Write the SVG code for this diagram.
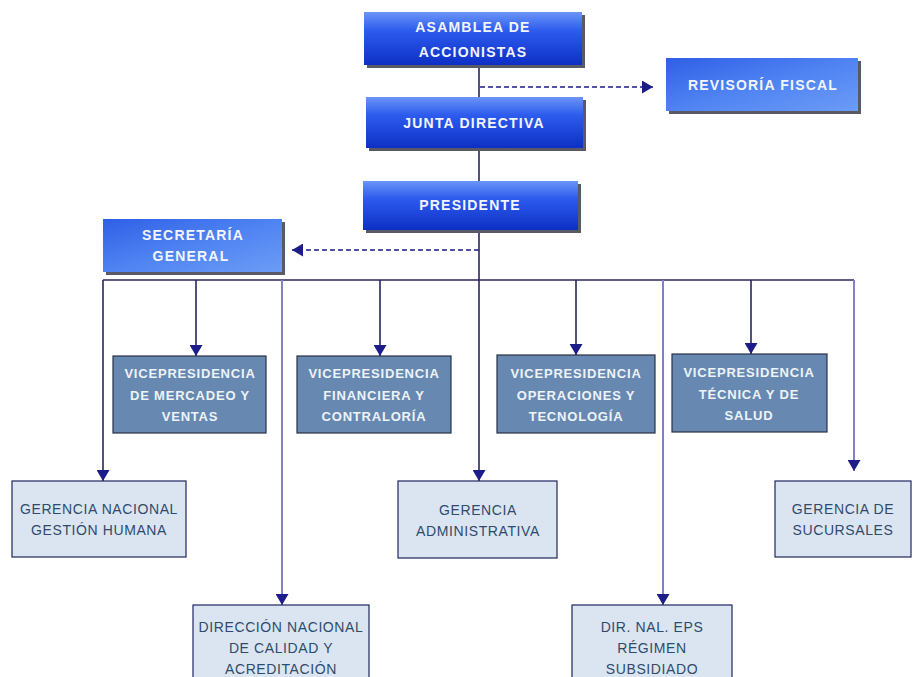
<svg xmlns="http://www.w3.org/2000/svg" width="923" height="677" viewBox="0 0 923 677">
<defs>
<linearGradient id="gTop" x1="0" y1="0" x2="0" y2="1">
<stop offset="0" stop-color="#6b95f7"/>
<stop offset="0.35" stop-color="#2d5cee"/>
<stop offset="1" stop-color="#0d2fc4"/>
</linearGradient>
<linearGradient id="gSide" x1="0" y1="0" x2="1" y2="1">
<stop offset="0" stop-color="#2f5fe6"/>
<stop offset="0.5" stop-color="#4f83f2"/>
<stop offset="1" stop-color="#6c9cf6"/>
</linearGradient>
<marker id="arr" viewBox="0 0 10 10" refX="10" refY="5" markerWidth="11" markerHeight="13" markerUnits="userSpaceOnUse" orient="auto" preserveAspectRatio="none">
<path d="M0,0 L10,5 L0,10 z" fill="#1c1c8a"/>
</marker>
</defs>
<style>
.shadow{fill:#5a5a66}
.top{fill:url(#gTop)}
.side{fill:url(#gSide)}
.tt{font-family:"Liberation Sans",Arial,sans-serif;font-weight:bold;font-size:14px;fill:#f2f5ff;text-anchor:middle;letter-spacing:1.2px}
.vp{fill:#6789b1;stroke:#2a2f45;stroke-width:1.2}
.vt{font-family:"Liberation Sans",Arial,sans-serif;font-weight:bold;font-size:13px;fill:#eef3f8;text-anchor:middle;letter-spacing:0.8px}
.gr{fill:#dbe5f1;stroke:#1f2560;stroke-width:1.2}
.gt{font-family:"Liberation Sans",Arial,sans-serif;font-size:14px;fill:#2f4a6c;text-anchor:middle;letter-spacing:0.6px}
.ln{stroke:#26265e;stroke-width:1.6;fill:none}
.lt{stroke:#8181c4;stroke-width:2;fill:none}
.da{stroke:#1c1c8a;stroke-width:1.5;stroke-dasharray:5 3;fill:none}
</style>

<g id="connectors">
<line class="ln" x1="479" y1="65" x2="479" y2="97"/>
<line class="ln" x1="479" y1="148" x2="479" y2="181"/>
<path class="da" d="M480,87 H653" marker-end="url(#arr)"/>
<path class="da" d="M479,250 H292" marker-end="url(#arr)"/>
<line class="ln" x1="103" y1="280" x2="854" y2="280"/>
<path class="ln" d="M479,230 V481" marker-end="url(#arr)"/>
<path class="ln" d="M103,280 V481" marker-end="url(#arr)"/>
<path class="ln" d="M196,280 V356" marker-end="url(#arr)"/>
<path class="lt" d="M282,280 V605" marker-end="url(#arr)"/>
<path class="ln" d="M380,280 V356" marker-end="url(#arr)"/>
<path class="ln" d="M576,280 V355" marker-end="url(#arr)"/>
<path class="lt" d="M663,280 V605" marker-end="url(#arr)"/>
<path class="ln" d="M751,280 V354" marker-end="url(#arr)"/>
<path class="lt" d="M854,280 V471" marker-end="url(#arr)"/>
</g>

<g id="asamblea">
<rect class="shadow" x="367" y="15" width="218" height="53"/>
<rect class="top" x="364" y="12" width="218" height="53"/>
<text class="tt" x="473" y="32">ASAMBLEA DE</text>
<text class="tt" x="473" y="57">ACCIONISTAS</text>
</g>

<g id="revisoria">
<rect class="shadow" x="669" y="61" width="192" height="53"/>
<rect class="side" x="666" y="58" width="192" height="53"/>
<text class="tt" x="763" y="90">REVISORÍA FISCAL</text>
</g>

<g id="junta">
<rect class="shadow" x="369" y="100" width="217" height="51"/>
<rect class="top" x="366" y="97" width="217" height="51"/>
<text class="tt" x="474" y="128">JUNTA DIRECTIVA</text>
</g>

<g id="presidente">
<rect class="shadow" x="366" y="184" width="215" height="49"/>
<rect class="top" x="363" y="181" width="215" height="49"/>
<text class="tt" x="470" y="210">PRESIDENTE</text>
</g>

<g id="secretaria">
<rect class="shadow" x="106" y="222" width="179" height="53"/>
<rect class="side" x="103" y="219" width="179" height="53"/>
<text class="tt" x="193" y="240">SECRETARÍA</text>
<text class="tt" x="191" y="261">GENERAL</text>
</g>

<g id="vp-mercadeo">
<rect class="vp" x="113" y="356" width="153" height="77"/>
<text class="vt" x="190" y="378">VICEPRESIDENCIA</text>
<text class="vt" x="190" y="400">DE MERCADEO Y</text>
<text class="vt" x="190" y="421">VENTAS</text>
</g>

<g id="vp-financiera">
<rect class="vp" x="297" y="356" width="154" height="77"/>
<text class="vt" x="374" y="378">VICEPRESIDENCIA</text>
<text class="vt" x="374" y="400">FINANCIERA Y</text>
<text class="vt" x="374" y="421">CONTRALORÍA</text>
</g>

<g id="vp-operaciones">
<rect class="vp" x="497" y="355" width="158" height="78"/>
<text class="vt" x="576" y="378">VICEPRESIDENCIA</text>
<text class="vt" x="576" y="400">OPERACIONES Y</text>
<text class="vt" x="576" y="421">TECNOLOGÍA</text>
</g>

<g id="vp-tecnica">
<rect class="vp" x="672" y="354" width="155" height="78"/>
<text class="vt" x="749" y="377">VICEPRESIDENCIA</text>
<text class="vt" x="749" y="399">TÉCNICA Y DE</text>
<text class="vt" x="749" y="420">SALUD</text>
</g>

<g id="gerencia-nacional">
<rect class="gr" x="12" y="481" width="174" height="76"/>
<text class="gt" x="99" y="514">GERENCIA NACIONAL</text>
<text class="gt" x="99" y="535">GESTIÓN HUMANA</text>
</g>

<g id="gerencia-administrativa">
<rect class="gr" x="398" y="481" width="159" height="77"/>
<text class="gt" x="478" y="515">GERENCIA</text>
<text class="gt" x="478" y="536">ADMINISTRATIVA</text>
</g>

<g id="gerencia-sucursales">
<rect class="gr" x="775" y="481" width="136" height="76"/>
<text class="gt" x="843" y="514">GERENCIA DE</text>
<text class="gt" x="843" y="535">SUCURSALES</text>
</g>

<g id="direccion-nacional">
<rect class="gr" x="193" y="605" width="176" height="80"/>
<text class="gt" x="281" y="632">DIRECCIÓN NACIONAL</text>
<text class="gt" x="281" y="653">DE CALIDAD Y</text>
<text class="gt" x="281" y="674">ACREDITACIÓN</text>
</g>

<g id="dir-eps">
<rect class="gr" x="572" y="605" width="160" height="80"/>
<text class="gt" x="652" y="632">DIR. NAL. EPS</text>
<text class="gt" x="652" y="653">RÉGIMEN</text>
<text class="gt" x="652" y="674">SUBSIDIADO</text>
</g>
</svg>
